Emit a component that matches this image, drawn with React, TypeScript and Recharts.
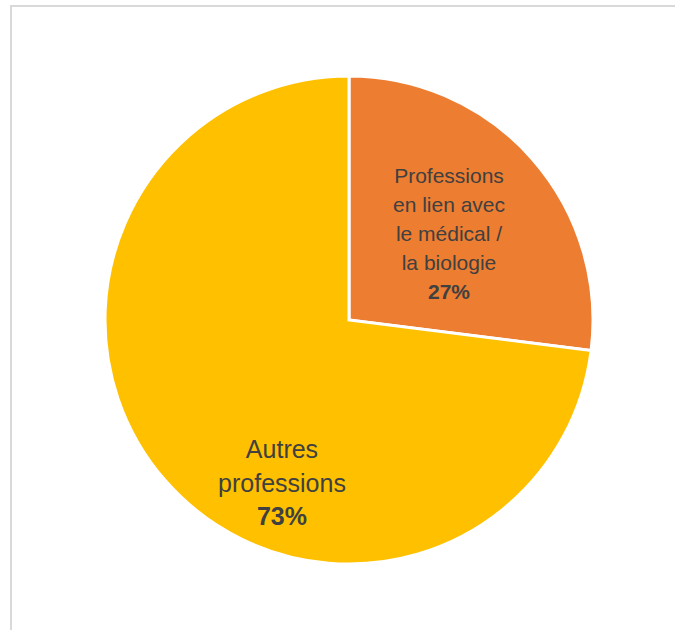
import React from "react";
import { PieChart, Pie, Cell } from "recharts";

const categories = ["Professions en lien avec le médical / la biologie", "Autres professions"];
const values = [27, 73];
const labelLines = [
  ["Professions", "en lien avec", "le médical /", "la biologie"],
  ["Autres", "professions"],
];
const percentLabels = ["27%", "73%"];
const colors = ["#ED7D31", "#FFC000"];

const data = categories.map((name, i) => ({ name, value: values[i] }));

// label layout (offsets from pie centre, font sizes, line heights)
const labelLayout = [
  { dx: 100, firstBaseline: -137, size: 21, lh: 29 },
  { dx: -67, firstBaseline: 138, size: 25, lh: 33.5 },
];

const renderLabel = (props: any) => {
  const { cx, cy, index } = props;
  const L = labelLayout[index];
  const lines = labelLines[index];
  const x = cx + L.dx;
  return (
    <text
      x={x}
      y={cy + L.firstBaseline}
      textAnchor="middle"
      fill="#404040"
      fontFamily="'Liberation Sans', Arial, sans-serif"
      fontSize={L.size}
    >
      {lines.map((t, i) => (
        <tspan key={i} x={x} y={cy + L.firstBaseline + i * L.lh}>
          {t}
        </tspan>
      ))}
      <tspan x={x} y={cy + L.firstBaseline + lines.length * L.lh} fontWeight="bold">
        {percentLabels[index]}
      </tspan>
    </text>
  );
};

export default function App() {
  return (
    <div style={{ position: "absolute", left: 0, top: 0, width: 675, height: 630, overflow: "hidden", background: "#fff" }}>
      <div
        style={{
          position: "absolute",
          left: 10,
          top: 5,
          width: 800,
          height: 800,
          borderTop: "2px solid #d9d9d9",
          borderLeft: "2px solid #d9d9d9",
          boxSizing: "border-box",
        }}
      />
      <div style={{ position: "absolute", left: 0, top: 0 }}>
        <PieChart width={675} height={630} margin={{ top: 0, right: 0, bottom: 0, left: 0 }}>
          <Pie
            data={data}
            dataKey="value"
            nameKey="name"
            cx={349}
            cy={320}
            outerRadius={244}
            startAngle={90}
            endAngle={-270}
            stroke="#ffffff"
            strokeWidth={3}
            label={renderLabel}
            labelLine={false}
            isAnimationActive={false}
          >
            {data.map((d, i) => (
              <Cell key={d.name} fill={colors[i]} />
            ))}
          </Pie>
        </PieChart>
      </div>
    </div>
  );
}
